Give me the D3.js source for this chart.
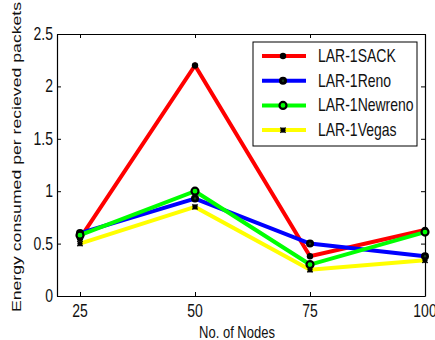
<!DOCTYPE html>
<html>
<head>
<meta charset="utf-8">
<script src="https://cdn.jsdelivr.net/npm/d3@7"></script>
<style>
  html, body { margin: 0; padding: 0; background: #fff; }
  svg { display: block; }
  text { font-family: "Liberation Sans", Arial, sans-serif; fill: #111; }
</style>
</head>
<body>
<svg id="chart" width="435" height="340"></svg>
<script>
//^^^^^^^^^^^^^^^^^^^^^^^^^^^^^^^^^^^^^^^^^^^^^^^^^^^^^^^^^^^^^^^^^^^^^^^^^^^^^^
// Data
//------------------------------------------------------------------------------
var nodes = [25, 50, 75, 100],
    yTicks = [0, 0.5, 1, 1.5, 2, 2.5],
    yTickLabels = ["0", "0.5", "1", "1.5", "2", "2.5"];

var sack = [0.55, 2.2, 0.38, 0.63],
    reno = [0.60, 0.93, 0.50, 0.38],
    newreno = [0.58, 1.00, 0.30, 0.61],
    vegas = [0.50, 0.85, 0.25, 0.34];

var seriesNames = ["LAR-1SACK", "LAR-1Reno", "LAR-1Newreno", "LAR-1Vegas"],
    seriesColors = ["#ff0000", "#0000ff", "#00ff00", "#ffff00"],
    seriesMarkers = ["dot", "circle", "ring", "star"];

var series = [sack, reno, newreno, vegas].map(function(vals, i) {
    return {
        name: seriesNames[i],
        color: seriesColors[i],
        marker: seriesMarkers[i],
        points: vals.map(function(v, j) { return {x: nodes[j], y: v}; })
    };
});

//^^^^^^^^^^^^^^^^^^^^^^^^^^^^^^^^^^^^^^^^^^^^^^^^^^^^^^^^^^^^^^^^^^^^^^^^^^^^^^
// Layout
//------------------------------------------------------------------------------
var svg = d3.select("#chart"),
    plotL = 57, plotR = 425, plotT = 34, plotB = 296,
    stretch = 1.25; // the figure is squashed wider than tall, text looks tall

var x = d3.scaleLinear().domain([20, 100]).range([plotL, plotR]),
    y = d3.scaleLinear().domain([0, 2.5]).range([plotB, plotT]);

function label(g, txt, px, py, size, anchor, rotate, k) {
    k = k || stretch;
    return g.append("text")
        .attr("transform", "translate(" + px + "," + py + ")" +
            (rotate ? " rotate(-90) scale(" + k + ",1)" : " scale(1," + k + ")"))
        .attr("text-anchor", anchor)
        .attr("dominant-baseline", "central")
        .style("font-size", size + "px")
        .text(txt);
}

//^^^^^^^^^^^^^^^^^^^^^^^^^^^^^^^^^^^^^^^^^^^^^^^^^^^^^^^^^^^^^^^^^^^^^^^^^^^^^^
// Axes: box with inward ticks on every side
//------------------------------------------------------------------------------
var axes = svg.append("g");

axes.append("g")
    .attr("transform", "translate(0," + plotB + ")")
    .call(d3.axisBottom(x).tickValues(nodes).tickSizeInner(-4).tickSizeOuter(0).tickFormat(""));
axes.append("g")
    .attr("transform", "translate(0," + plotT + ")")
    .call(d3.axisTop(x).tickValues(nodes).tickSizeInner(-4).tickSizeOuter(0).tickFormat(""));
axes.append("g")
    .attr("transform", "translate(" + plotL + ",0)")
    .call(d3.axisLeft(y).tickValues(yTicks).tickSizeInner(-4).tickSizeOuter(0).tickFormat(""));
axes.append("g")
    .attr("transform", "translate(" + plotR + ",0)")
    .call(d3.axisRight(y).tickValues(yTicks).tickSizeInner(-4).tickSizeOuter(0).tickFormat(""));

axes.selectAll(".domain").attr("stroke", "#000").attr("stroke-width", 1.2);
axes.selectAll(".tick line").attr("stroke", "#000");

nodes.forEach(function(n) {
    label(svg, String(n), x(n), 311, 14, "middle");
});
yTicks.forEach(function(t, i) {
    label(svg, yTickLabels[i], 53, y(t), 14, "end");
});

label(svg, "No. of Nodes", 237, 332, 13, "middle");
label(svg, "Energy consumed per recieved  packets", 16, 157, 13, "middle", true, 1.36);

//^^^^^^^^^^^^^^^^^^^^^^^^^^^^^^^^^^^^^^^^^^^^^^^^^^^^^^^^^^^^^^^^^^^^^^^^^^^^^^
// Markers (black, matlab-ish)
//------------------------------------------------------------------------------
function marker(g, kind, px, py, color) {
    if (kind === "dot") {
        g.append("circle").attr("cx", px).attr("cy", py).attr("r", 3.2).attr("fill", "#000");
    } else if (kind === "circle") {
        g.append("circle").attr("cx", px).attr("cy", py).attr("r", 4).attr("fill", "#000");
        g.append("circle").attr("cx", px).attr("cy", py).attr("r", 1.2).attr("fill", "#1a3a1a");
    } else if (kind === "ring") {
        g.append("circle").attr("cx", px).attr("cy", py).attr("r", 3.5)
            .attr("fill", color).attr("stroke", "#000").attr("stroke-width", 2.2);
    } else {
        var s = 2.6;
        g.append("path")
            .attr("d", "M" + (px - s) + "," + py + "H" + (px + s) +
                "M" + px + "," + (py - s) + "V" + (py + s) +
                "M" + (px - s) + "," + (py - s) + "L" + (px + s) + "," + (py + s) +
                "M" + (px - s) + "," + (py + s) + "L" + (px + s) + "," + (py - s))
            .attr("stroke", "#000").attr("stroke-width", 1.6);
    }
}

//^^^^^^^^^^^^^^^^^^^^^^^^^^^^^^^^^^^^^^^^^^^^^^^^^^^^^^^^^^^^^^^^^^^^^^^^^^^^^^
// Lines
//------------------------------------------------------------------------------
var line = d3.line()
    .x(function(d) { return x(d.x); })
    .y(function(d) { return y(d.y); });

var plot = svg.append("g");

series.forEach(function(s) {
    plot.append("path")
        .datum(s.points)
        .attr("d", line)
        .attr("fill", "none")
        .attr("stroke", s.color)
        .attr("stroke-width", 4)
        .attr("stroke-linejoin", "miter");
});
series.forEach(function(s) {
    s.points.forEach(function(p) {
        marker(plot, s.marker, x(p.x), y(p.y), s.color);
    });
});

//^^^^^^^^^^^^^^^^^^^^^^^^^^^^^^^^^^^^^^^^^^^^^^^^^^^^^^^^^^^^^^^^^^^^^^^^^^^^^^
// Legend
//------------------------------------------------------------------------------
var legend = svg.append("g");

legend.append("rect")
    .attr("x", 253).attr("y", 42)
    .attr("width", 164).attr("height", 104)
    .attr("fill", "#fff").attr("stroke", "#000").attr("stroke-width", 1);

series.forEach(function(s, i) {
    var ly = 56 + i * 24.7;
    legend.append("line")
        .attr("x1", 262).attr("x2", 306)
        .attr("y1", ly).attr("y2", ly)
        .attr("stroke", s.color).attr("stroke-width", 4);
    marker(legend, s.marker, 283, ly, s.color);
    label(legend, s.name, 318, ly, 14, "start");
});
</script>
</body>
</html>
